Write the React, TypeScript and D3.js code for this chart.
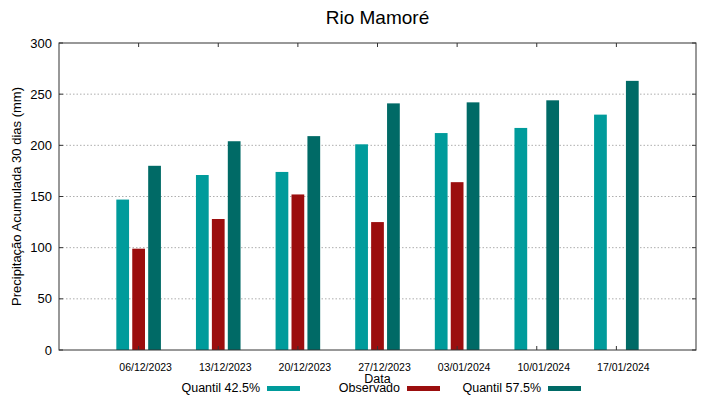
import * as d3 from "d3";

const dates = ["06/12/2023", "13/12/2023", "20/12/2023", "27/12/2023", "03/01/2024", "10/01/2024", "17/01/2024"];
const q425 = [147, 171, 174, 201, 212, 217, 230];
const observed: (number | null)[] = [99, 128, 152, 125, 164, null, null];
const q575 = [180, 204, 209, 241, 242, 244, 263];
const yTicks = [0, 50, 100, 150, 200, 250, 300];

const series = [
  { name: "Quantil 42.5%", values: q425 as (number | null)[], color: "#009b9b", offset: -0.2 },
  { name: "Observado", values: observed, color: "#9b0e0e", offset: 0 },
  { name: "Quantil 57.5%", values: q575 as (number | null)[], color: "#006a66", offset: 0.2 },
];

const W = 719;
const H = 399;
const left = 59;
const right = 696;
const top = 43;
const bottom = 350;

const App = () => {
  const x = d3.scaleLinear().domain([-1, dates.length]).range([left, right]);
  const y = d3.scaleLinear().domain([0, 300]).range([bottom, top]);
  const barW = x(0.16) - x(0);
  const font = "'Liberation Sans', Arial, sans-serif";

  const legendX = [260, 400, 541];

  return (
    <svg width={W} height={H} style={{ position: "absolute", left: 0, top: 0 }} fontFamily={font}>
      <rect width={W} height={H} fill="#fff" />
      <text x={(left + right) / 2} y={24} textAnchor="middle" fontSize={19} fill="#000">
        Rio Mamoré
      </text>

      {/* grid */}
      {yTicks.filter((t) => t > 0 && t < 300).map((t) => (
        <line key={"g" + t} x1={left} x2={right} y1={y(t)} y2={y(t)} stroke="#999" strokeWidth={0.8} strokeDasharray="1.5,2" />
      ))}

      {/* bars */}
      {series.map((s) =>
        s.values.map((v, i) =>
          v == null ? null : (
            <rect
              key={s.name + i}
              x={x(i + s.offset) - barW / 2}
              y={y(v)}
              width={barW}
              height={y(0) - y(v)}
              fill={s.color}
            />
          )
        )
      )}

      {/* frame */}
      <rect x={left} y={top} width={right - left} height={bottom - top} fill="none" stroke="#333" strokeWidth={1} />

      {/* y ticks */}
      {yTicks.map((t) => (
        <g key={"y" + t}>
          <line x1={left} x2={left + 4} y1={y(t)} y2={y(t)} stroke="#333" />
          <line x1={right - 4} x2={right} y1={y(t)} y2={y(t)} stroke="#333" />
          <text x={left - 7} y={y(t) + 4.5} textAnchor="end" fontSize={13} fill="#000">
            {t}
          </text>
        </g>
      ))}

      {/* x ticks */}
      {dates.map((d, i) => (
        <g key={d}>
          <line x1={x(i)} x2={x(i)} y1={bottom} y2={bottom - 4} stroke="#333" />
          <line x1={x(i)} x2={x(i)} y1={top} y2={top + 4} stroke="#333" />
          <text x={x(i) + 7} y={371} textAnchor="middle" fontSize={10.5} fill="#000">
            {d}
          </text>
        </g>
      ))}

      <text x={(left + right) / 2} y={383} textAnchor="middle" fontSize={12.5} fill="#000">
        Data
      </text>
      <text
        transform={`translate(21, ${(top + bottom) / 2}) rotate(-90)`}
        textAnchor="middle"
        fontSize={13}
        fill="#000"
      >
        Precipitação Acumulada 30 dias (mm)
      </text>

      {/* legend */}
      {series.map((s, i) => (
        <g key={"l" + s.name}>
          <text x={legendX[i]} y={391.5} textAnchor="end" fontSize={12.5} fill="#000">
            {s.name}
          </text>
          <rect x={legendX[i] + 7} y={386} width={33} height={5} fill={s.color} />
        </g>
      ))}
    </svg>
  );
};

export default App;
